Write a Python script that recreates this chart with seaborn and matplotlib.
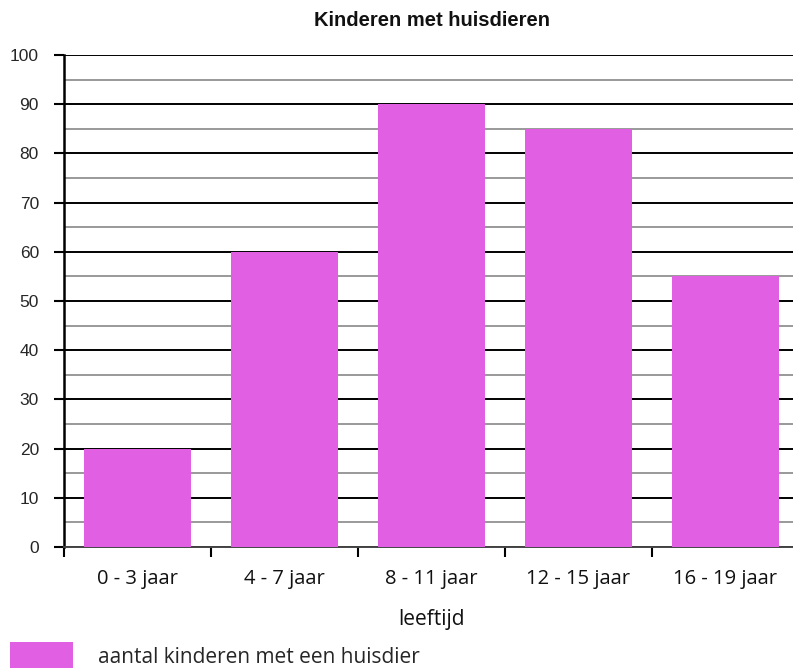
import matplotlib
matplotlib.use("Agg")
import matplotlib.pyplot as plt
from matplotlib.ticker import MultipleLocator, FixedLocator
import seaborn as sns
import pandas as pd

categories = ["0 - 3 jaar", "4 - 7 jaar", "8 - 11 jaar", "12 - 15 jaar", "16 - 19 jaar"]
values = [20, 60, 90, 85, 55]
title = "Kinderen met huisdieren"
xlabel = "leeftijd"
series_label = "aantal kinderen met een huisdier"

df = pd.DataFrame({"leeftijd": categories, "aantal": values})

sns.set_theme(style="white")
plt.rcParams["font.family"] = ["Liberation Sans", "DejaVu Sans"]

fig = plt.figure(figsize=(7.93, 6.68), dpi=100)
ax = fig.add_axes([64 / 793, 121 / 668, 729 / 793, 492 / 668])

sns.barplot(data=df, x="leeftijd", y="aantal", color="#E15FE3", saturation=1,
            width=0.73, ax=ax, label=series_label, edgecolor="none", zorder=3)

ax.set_ylim(0, 100)
ax.set_xlim(-0.5, -0.5 + 729 / 147)

ax.yaxis.set_major_locator(MultipleLocator(10))
ax.yaxis.set_minor_locator(MultipleLocator(5))
ax.grid(which="major", axis="y", color="black", linewidth=1.4, zorder=1)
ax.grid(which="minor", axis="y", color="#999999", linewidth=1.4, zorder=1)
ax.grid(which="major", axis="x", visible=False)
ax.set_axisbelow(True)

ax.xaxis.set_minor_locator(FixedLocator([-0.5, 0.5, 1.5, 2.5, 3.5]))
ax.tick_params(axis="x", which="major", length=0, pad=16, labelsize=14.5)
ax.tick_params(axis="x", which="minor", direction="out", length=7, width=1.5,
               color="black", bottom=True)
ax.tick_params(axis="y", which="major", direction="out", length=7, width=1.5,
               color="black", left=True, pad=11, labelsize=12.5)
ax.tick_params(axis="y", which="minor", length=0)

for lbl in ax.get_xticklabels():
    lbl.set_fontfamily(["Open Sans", "DejaVu Sans"])
    lbl.set_color("#111111")

for s in ["top", "right"]:
    ax.spines[s].set_visible(False)
ax.spines["left"].set_color("black")
ax.spines["left"].set_linewidth(1.8)
ax.spines["bottom"].set_color("#444444")
ax.spines["bottom"].set_linewidth(1.4)

ax.set_ylabel("")
ax.set_xlabel(xlabel, fontsize=15, fontfamily=["Open Sans", "DejaVu Sans"],
              color="#111111")
ax.xaxis.set_label_coords((431 - 64) / 729, -0.125)

fig.text(432 / 793, 1 - 21 / 668, title, ha="center", va="center",
         fontsize=14.5, fontweight="bold", color="#111111")

if ax.legend_:
    ax.legend_.remove()
handles, labels = ax.get_legend_handles_labels()
leg = fig.legend(handles, labels, loc="lower left",
                 bbox_to_anchor=(10 / 793, -0.004), frameon=False,
                 handlelength=3.0, handleheight=1.75, handletextpad=1.2,
                 borderpad=0, borderaxespad=0,
                 prop={"family": ["Open Sans", "DejaVu Sans"], "size": 15})

fig.savefig("out.png", dpi=100)
